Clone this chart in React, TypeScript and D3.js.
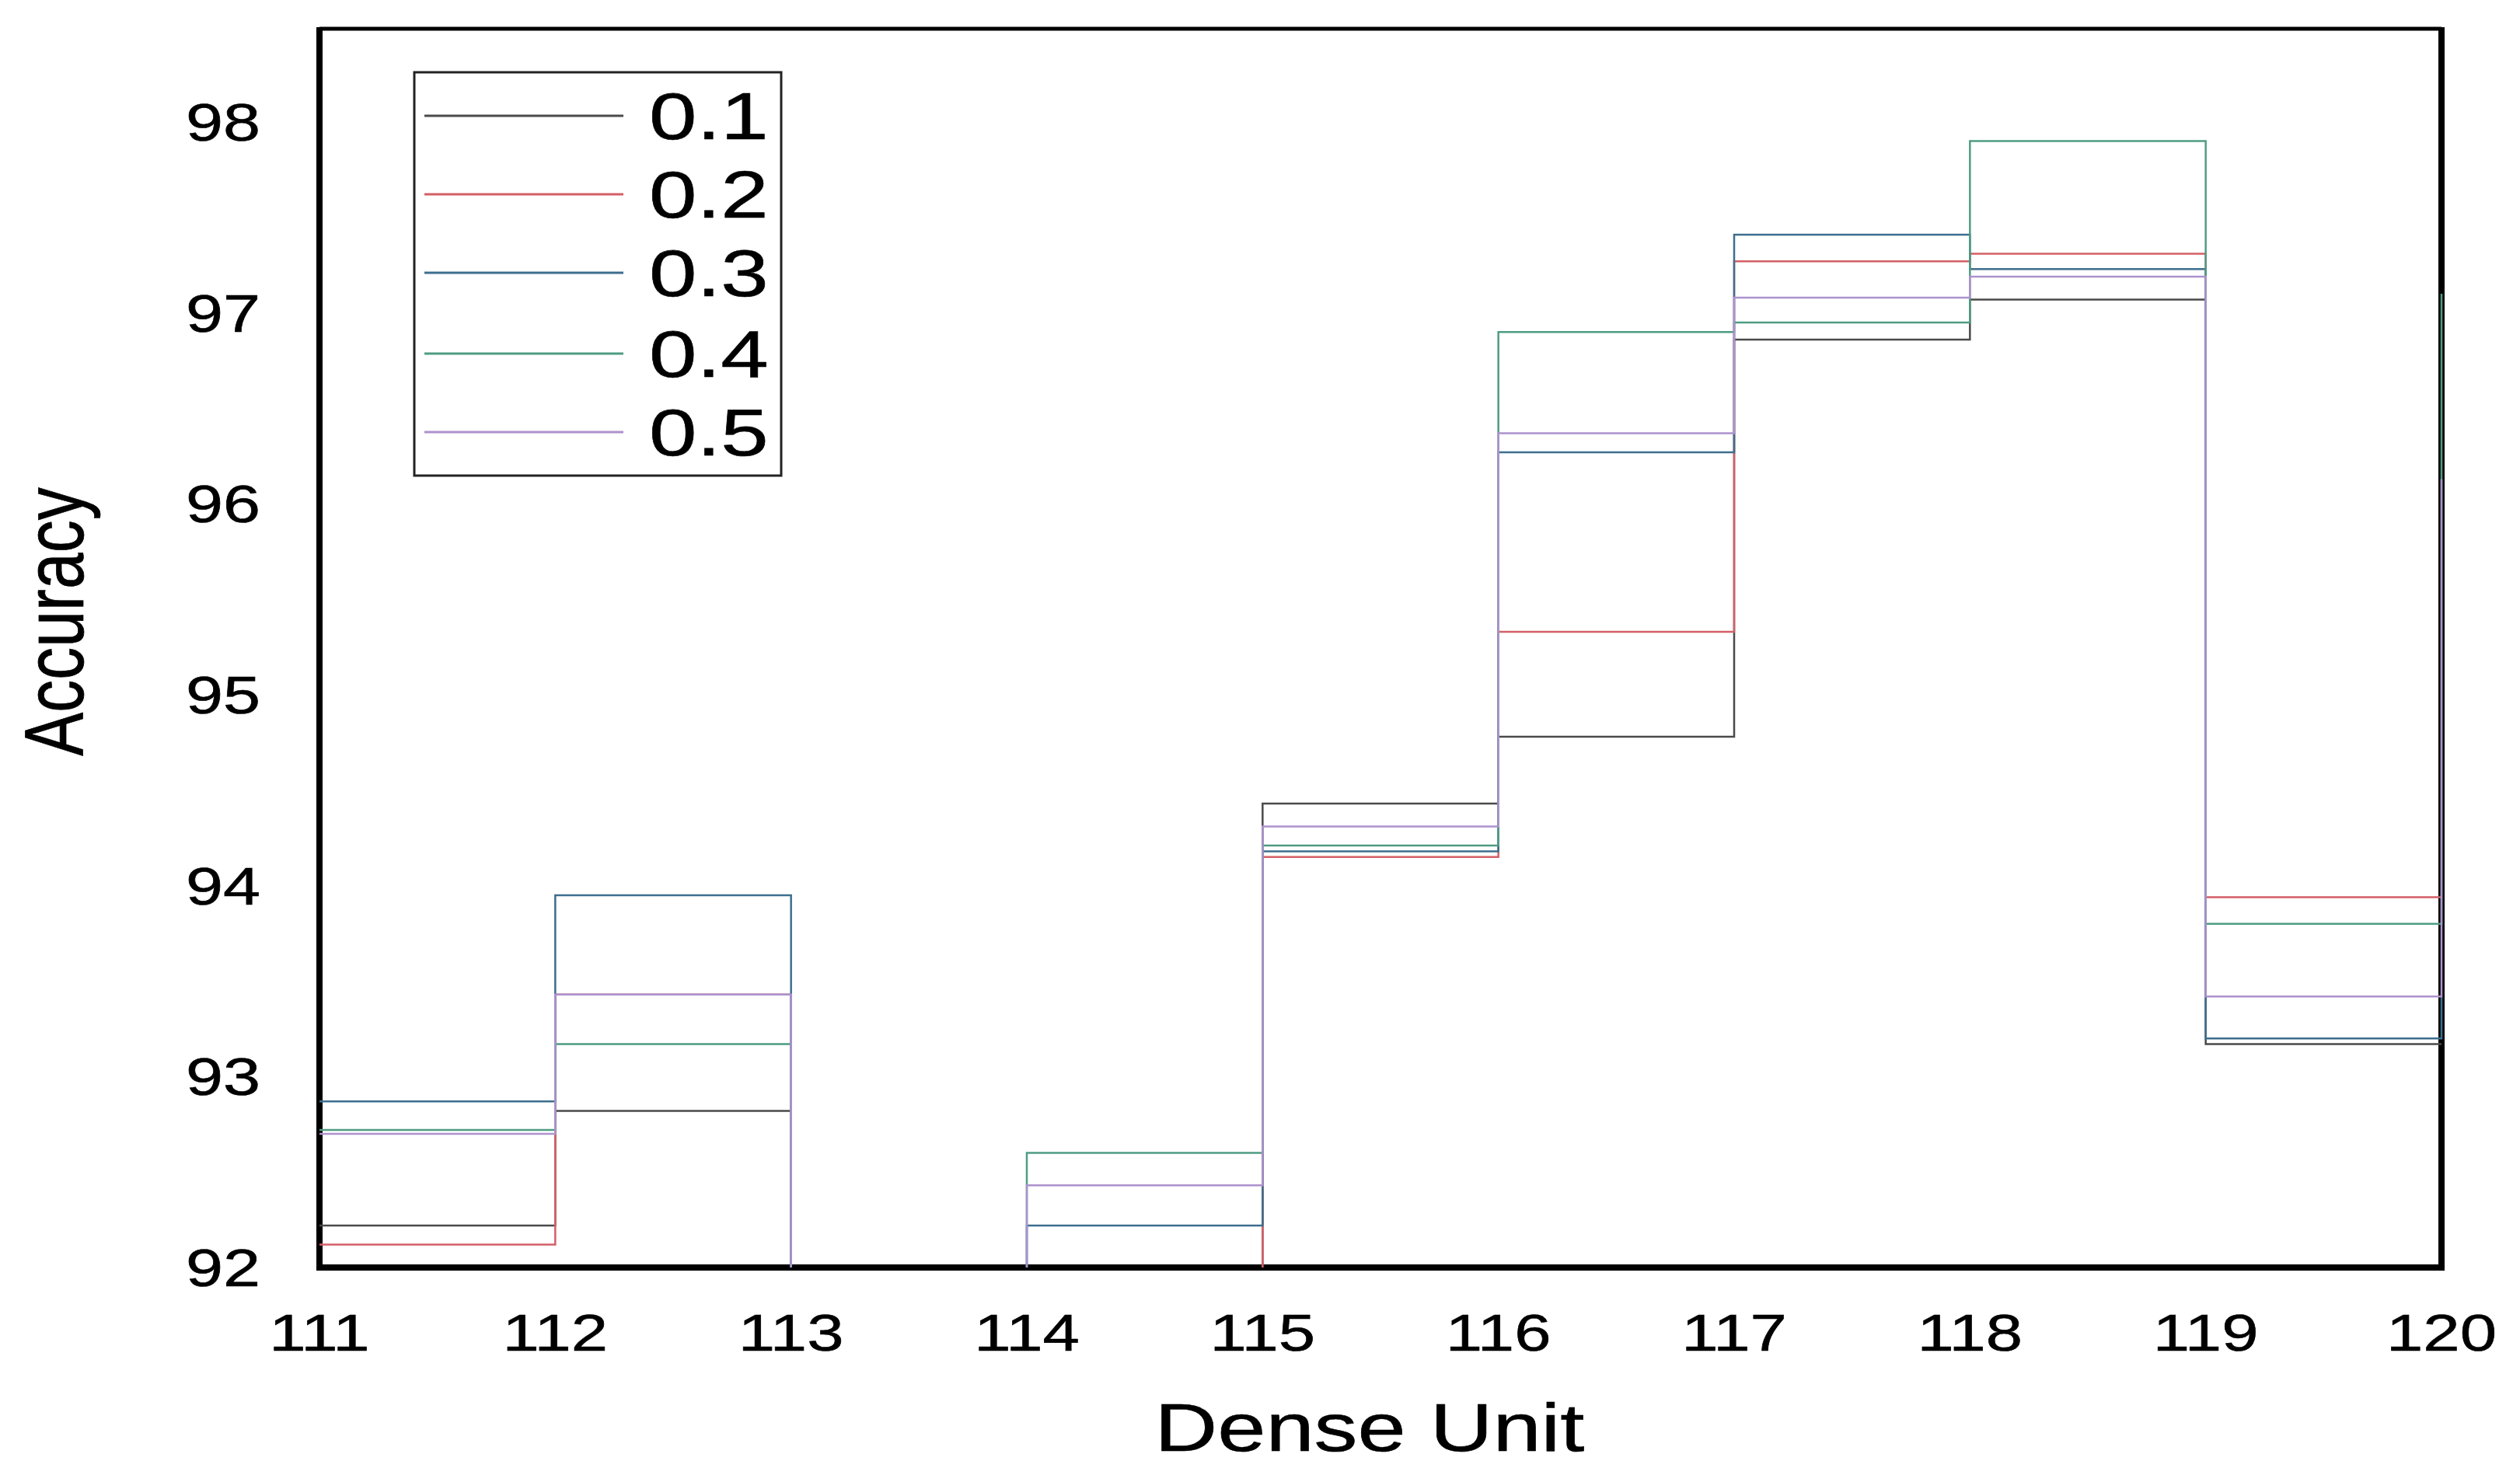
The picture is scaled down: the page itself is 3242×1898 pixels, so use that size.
import React from 'react';
import * as d3 from 'd3';

const denseUnits = [111, 112, 113, 114, 115, 116, 117, 118, 119, 120];
const acc01 = [92.22, 92.82, 91.5, 91.7, 94.43, 94.78, 96.86, 97.07, 93.17, 93.17];
const acc02 = [92.12, 93.43, 91.4, 91.6, 94.15, 95.33, 97.27, 97.31, 93.94, 93.94];
const acc03 = [92.87, 93.95, 91.6, 92.22, 94.18, 96.27, 97.41, 97.23, 93.2, 93.42];
const acc04 = [92.72, 93.17, 91.7, 92.6, 94.21, 96.9, 96.95, 97.9, 93.8, 97.1];
const acc05 = [92.7, 93.43, 91.5, 92.43, 94.31, 96.37, 97.08, 97.19, 93.42, 96.13];
const seriesLabels = ['0.1', '0.2', '0.3', '0.4', '0.5'];
const seriesColors = ['#4a4a4a', '#d45f66', '#3d6e8e', '#4f9c84', '#ad92cd'];
const yTicks = [92, 93, 94, 95, 96, 97, 98];
const xTicks = [111, 112, 113, 114, 115, 116, 117, 118, 119, 120];

const FONT = '"Liberation Sans", Arial, sans-serif';
const SX = 1.27;

export default function App() {
  const W = 3242, H = 1898;
  const left = 411, right = 3141, top = 37, bottom = 1631;
  const x = d3.scaleLinear().domain([111, 120]).range([left, right]);
  const y = d3.scaleLinear().domain([92, 98]).range([bottom, 157]);
  const line = d3
    .line<[number, number]>()
    .x((d) => x(d[0]))
    .y((d) => y(d[1]))
    .curve(d3.curveStepAfter);
  const allSeries = [acc01, acc02, acc03, acc04, acc05];

  const legX0 = 533, legY0 = 93, legX1 = 1005, legY1 = 612;
  const legRows = [149, 250, 351, 455, 556];

  return (
    <svg
      width={W}
      height={H}
      style={{ position: 'absolute', left: 0, top: 0, background: '#fff' }}
      fontFamily={FONT}
    >
      <defs>
        <clipPath id="plotClip">
          <rect x={left - 2} y={top} width={right - left + 4} height={bottom - top} />
        </clipPath>
      </defs>
      <rect x={0} y={0} width={W} height={H} fill="#fff" />

      {/* frame */}
      <line x1={left} y1={top} x2={right} y2={top} stroke="#000" strokeWidth={5} />
      <line x1={left} y1={top - 2} x2={left} y2={bottom + 4} stroke="#000" strokeWidth={8} />
      <line x1={right} y1={top - 2} x2={right} y2={bottom + 4} stroke="#000" strokeWidth={8} />
      <line x1={left - 4} y1={bottom} x2={right + 4} y2={bottom} stroke="#000" strokeWidth={8} />

      {/* data */}
      <g clipPath="url(#plotClip)">
        {allSeries.map((vals, i) => (
          <path
            key={i}
            d={line(denseUnits.map((u, j) => [u, vals[j]] as [number, number])) || ''}
            fill="none"
            stroke={seriesColors[i]}
            strokeWidth={2.5}
          />
        ))}
      </g>

      {/* y ticks */}
      {yTicks.map((t) => (
        <text
          key={t}
          transform={`translate(335,${y(t) + 24}) scale(${SX},1)`}
          textAnchor="end"
          fontSize={68}
          fill="#000"
          stroke="#000"
          strokeWidth={0.6}
        >
          {t}
        </text>
      ))}

      {/* x ticks */}
      {xTicks.map((t) => (
        <text
          key={t}
          transform={`translate(${x(t)},1738) scale(${SX},1)`}
          textAnchor="middle"
          fontSize={67}
          fill="#000"
          stroke="#000"
          strokeWidth={0.6}
        >
          {t}
        </text>
      ))}

      {/* axis titles */}
      <text
        transform={`translate(1762,1867) scale(${SX},1)`}
        textAnchor="middle"
        fontSize={88}
        fill="#000"
        stroke="#000"
        strokeWidth={0.6}
      >
        Dense Unit
      </text>
      <text
        transform={`translate(107,800) scale(${SX},1) rotate(-90)`}
        textAnchor="middle"
        fontSize={84}
        fill="#000"
        stroke="#000"
        strokeWidth={0.6}
      >
        Accuracy
      </text>

      {/* legend */}
      <rect
        x={legX0}
        y={legY0}
        width={legX1 - legX0}
        height={legY1 - legY0}
        fill="#fff"
        stroke="#222"
        strokeWidth={3}
      />
      {seriesLabels.map((lab, i) => (
        <g key={lab}>
          <line x1={546} x2={802} y1={legRows[i]} y2={legRows[i]} stroke={seriesColors[i]} strokeWidth={3} />
          <text
            transform={`translate(835,${legRows[i] + 30}) scale(1.3,1)`}
            fontSize={85}
            fill="#000"
            stroke="#000"
            strokeWidth={0.6}
          >
            {lab}
          </text>
        </g>
      ))}
    </svg>
  );
}
